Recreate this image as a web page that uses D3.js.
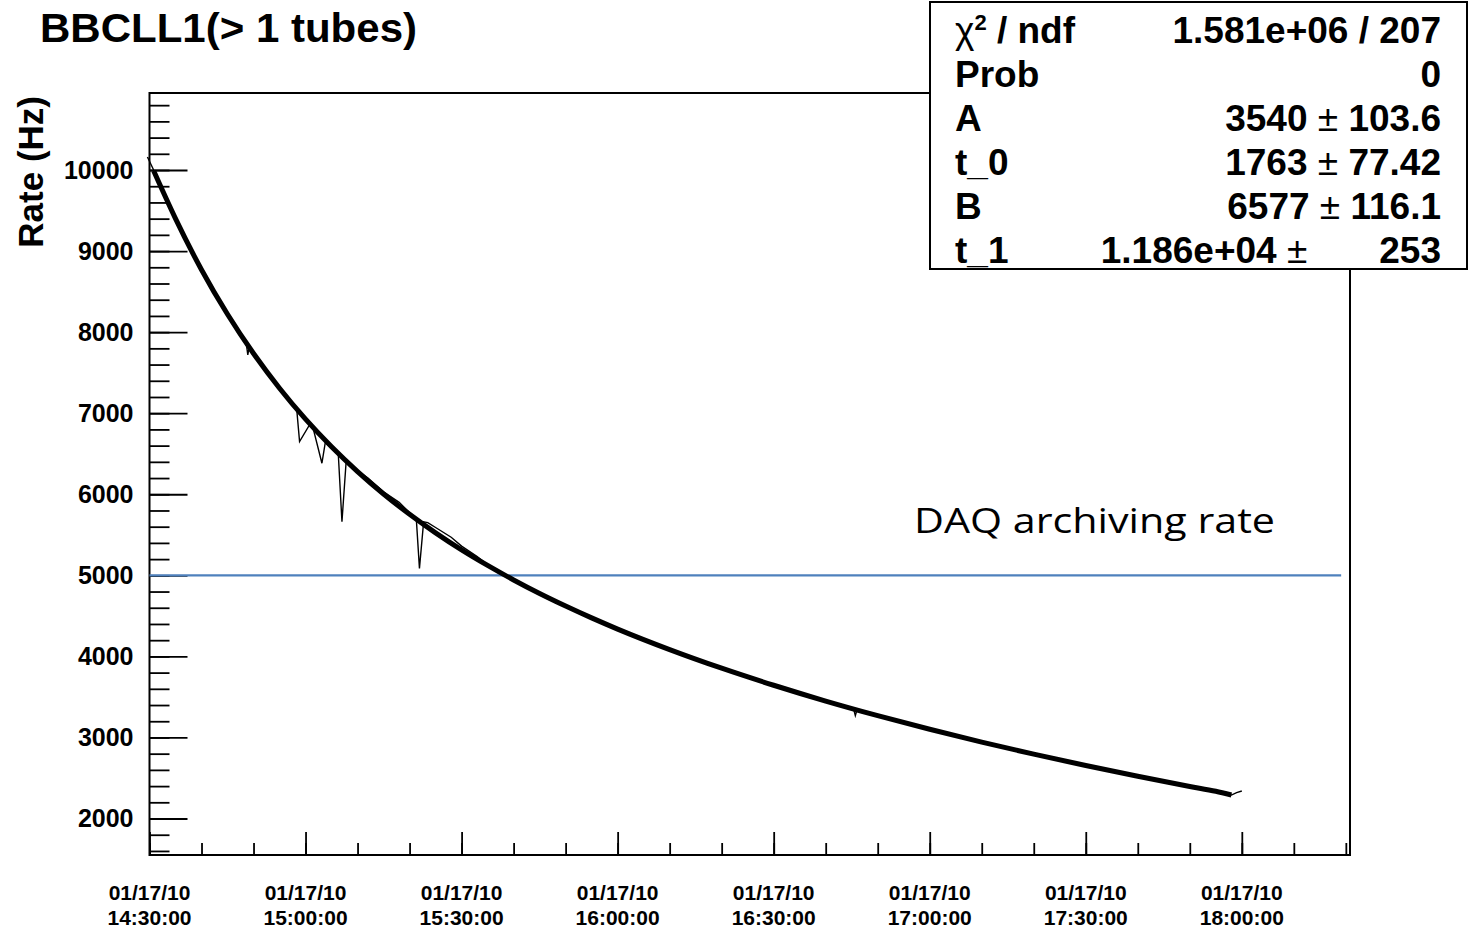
<!DOCTYPE html>
<html lang="en">
<head>
<meta charset="UTF-8" />
<title>BBCLL1 rate</title>
<script src="https://cdn.jsdelivr.net/npm/d3@7"></script>
<style>
  body { margin: 0; background: #fff; }
  text { font-family: "Liberation Sans", Arial, sans-serif; font-weight: bold; fill: #000; }
</style>
</head>
<body>
<script>

// minutes after 01/17/10 14:30:00 and rate in Hz
var fitMin  = [0.8, 5, 10, 15, 20, 25, 30, 35, 40, 45, 50, 55, 60, 65, 70, 75, 80, 85, 90,
               100, 110, 120, 130, 140, 150, 160, 170, 180, 190, 200, 205, 208];
var fitRate = [9990, 9400, 8770, 8220, 7736, 7308, 6926, 6586, 6280, 6003, 5753, 5524, 5314, 5122, 4943, 4776, 4621, 4475, 4337,
               4084, 3854, 3644, 3449, 3269, 3101, 2942, 2794, 2654, 2521, 2395, 2336, 2290];

var rawMin  = [-0.4, 0.8, 5, 10, 15, 18.6, 18.9, 19.2, 20, 25, 28.3, 28.85, 30.9, 31.4, 33.15, 33.8, 36.3, 37.0, 37.8,
               40, 42, 45, 48, 51.3, 51.9, 52.7, 53.5, 55, 58, 60, 63, 65, 70, 75, 80, 85, 90, 100, 110, 120, 125,
               132, 135.4, 135.7, 136.0, 140, 150, 160, 170, 180, 190, 200, 205, 208, 209, 210];
var rawRate = [10160, 10000, 9400, 8780, 8220, 7860, 7720, 7830, 7740, 7310, 7050, 6650, 6870, 6830, 6383, 6640, 6490, 5662, 6400,
               6290, 6200, 6030, 5900, 5690, 5086, 5660, 5650, 5590, 5470, 5360, 5230, 5130, 4945, 4780, 4625, 4470, 4340, 4080, 3855, 3645, 3545,
               3400, 3345, 3270, 3335, 3270, 3100, 2942, 2794, 2654, 2521, 2395, 2336, 2290, 2320, 2340];

var yMajor = [2000, 3000, 4000, 5000, 6000, 7000, 8000, 9000, 10000];
var yMinor = d3.range(1600, 10801, 200);
var xMajorMin = [0, 30, 60, 90, 120, 150, 180, 210];
var xMinorMin = d3.range(0, 231, 10);

var daqRate = 5000;
var daqEndMin = 229.1;

var statNames = ["\u03c7", "Prob", "A", "t_0", "B", "t_1"];
var statVals  = ["1.581e+06 / 207", "0", "3540", "1763", "6577", "1.186e+04"];
var statErrs  = ["", "", "103.6", "77.42", "116.1", "   253"];

var width = 1470;
var height = 930;
var frame = { left: 149.5, right: 1350, top: 93, bottom: 855 };

var t0 = new Date(2010, 0, 17, 14, 30, 0);
function toDate(m) { return new Date(t0.getTime() + m * 60000); }

var svg = d3.select("body")
  .append("svg")
  .attr("width", width)
  .attr("height", height);

var xScale = d3.scaleTime()
  .domain([t0, toDate(230.8)])
  .range([frame.left, frame.right]);

var yScale = d3.scaleLinear()
  .domain([1550, 10950])
  .range([frame.bottom, frame.top]);

// frame
svg.append("rect")
  .attr("x", frame.left)
  .attr("y", frame.top)
  .attr("width", frame.right - frame.left)
  .attr("height", frame.bottom - frame.top)
  .attr("fill", "none")
  .attr("stroke", "#000")
  .attr("stroke-width", 2);

// x ticks (pointing up into the frame)
svg.append("g")
  .attr("transform", "translate(0," + frame.bottom + ")")
  .call(d3.axisBottom(xScale).tickValues(xMinorMin.map(toDate)).tickSize(-12).tickFormat(""))
  .call(function(g) { g.select(".domain").remove(); })
  .selectAll("line").attr("stroke-width", 1.8);

var xAxis = svg.append("g")
  .attr("transform", "translate(0," + frame.bottom + ")")
  .call(d3.axisBottom(xScale).tickValues(xMajorMin.map(toDate)).tickSize(-23).tickFormat(""))
  .call(function(g) { g.select(".domain").remove(); });
xAxis.selectAll("line").attr("stroke-width", 1.8);

var fmtDay = d3.timeFormat("%m/%d/%y");
var fmtTime = d3.timeFormat("%H:%M:%S");
var xLabels = svg.append("g").selectAll("text")
  .data(xMajorMin)
  .enter().append("text")
  .attr("text-anchor", "middle")
  .style("font-size", "21px");
xLabels.append("tspan")
  .attr("x", function(d) { return xScale(toDate(d)); })
  .attr("y", 900)
  .text(function(d) { return fmtDay(toDate(d)); });
xLabels.append("tspan")
  .attr("x", function(d) { return xScale(toDate(d)); })
  .attr("y", 925)
  .text(function(d) { return fmtTime(toDate(d)); });

// y ticks
svg.append("g")
  .attr("transform", "translate(" + frame.left + ",0)")
  .call(d3.axisLeft(yScale).tickValues(yMinor).tickSize(-20).tickFormat(""))
  .call(function(g) { g.select(".domain").remove(); })
  .selectAll("line").attr("stroke-width", 1.8);

var yAxis = svg.append("g")
  .attr("transform", "translate(" + frame.left + ",0)")
  .call(d3.axisLeft(yScale).tickValues(yMajor).tickSize(-38).tickPadding(16).tickFormat(d3.format("d")))
  .call(function(g) { g.select(".domain").remove(); });
yAxis.selectAll("line").attr("stroke-width", 1.8);
yAxis.selectAll("text").style("font-size", "25px");

// DAQ line
svg.append("line")
  .attr("x1", frame.left)
  .attr("x2", xScale(toDate(daqEndMin)))
  .attr("y1", yScale(daqRate))
  .attr("y2", yScale(daqRate))
  .attr("stroke", "#4f81bd")
  .attr("stroke-width", 2.2);

svg.append("text")
  .attr("x", 914)
  .attr("y", 533)
  .attr("textLength", 361)
  .attr("lengthAdjust", "spacingAndGlyphs")
  .style("font-family", "'Open Sans', sans-serif")
  .style("font-weight", "normal")
  .style("font-size", "35px")
  .text("DAQ archiving rate");

// data
var rawLine = d3.line()
  .x(function(d) { return xScale(toDate(d[0])); })
  .y(function(d) { return yScale(d[1]); });

svg.append("path")
  .datum(d3.zip(rawMin, rawRate))
  .attr("d", rawLine)
  .attr("fill", "none")
  .attr("stroke", "#000")
  .attr("stroke-width", 1.4);

var fitLine = d3.line()
  .curve(d3.curveMonotoneX)
  .x(function(d) { return xScale(toDate(d[0])); })
  .y(function(d) { return yScale(d[1]); });

svg.append("path")
  .datum(d3.zip(fitMin, fitRate))
  .attr("d", fitLine)
  .attr("fill", "none")
  .attr("stroke", "#000")
  .attr("stroke-width", 5)
  .attr("stroke-linejoin", "round");

// title + axis title
svg.append("text")
  .attr("x", 40)
  .attr("y", 42)
  .attr("textLength", 377)
  .attr("lengthAdjust", "spacingAndGlyphs")
  .style("font-size", "40px")
  .text("BBCLL1(> 1 tubes)");

svg.append("text")
  .attr("transform", "translate(43,96) rotate(-90)")
  .attr("text-anchor", "end")
  .style("font-size", "35px")
  .text("Rate (Hz)");

// stats box
var box = svg.append("g");
box.append("rect")
  .attr("x", 930)
  .attr("y", 2)
  .attr("width", 537)
  .attr("height", 267)
  .attr("fill", "#fff")
  .attr("stroke", "#000")
  .attr("stroke-width", 2);

statNames.forEach(function(name, i) {
  var yy = 43 + i * 44;
  var lab = box.append("text")
    .attr("x", 955)
    .attr("y", yy)
    .style("font-size", "37px");
  if (i == 0) {
    lab.append("tspan").style("font-weight", "normal").text(name);
    lab.append("tspan").attr("dy", -13).style("font-size", "22px").text("2");
    lab.append("tspan").attr("dy", 13).text(" / ndf");
  } else {
    lab.text(name);
  }

  var val = box.append("text")
    .attr("x", 1441)
    .attr("y", yy)
    .attr("text-anchor", "end")
    .attr("xml:space", "preserve")
    .style("font-size", "37px");
  val.append("tspan").text(statVals[i]);
  if (statErrs[i] != "") {
    val.append("tspan").style("font-weight", "normal").text(" \u00b1 ");
    val.append("tspan").text(statErrs[i].replace(/ /g, "\u2007"));
  }
});

</script>
</body>
</html>
